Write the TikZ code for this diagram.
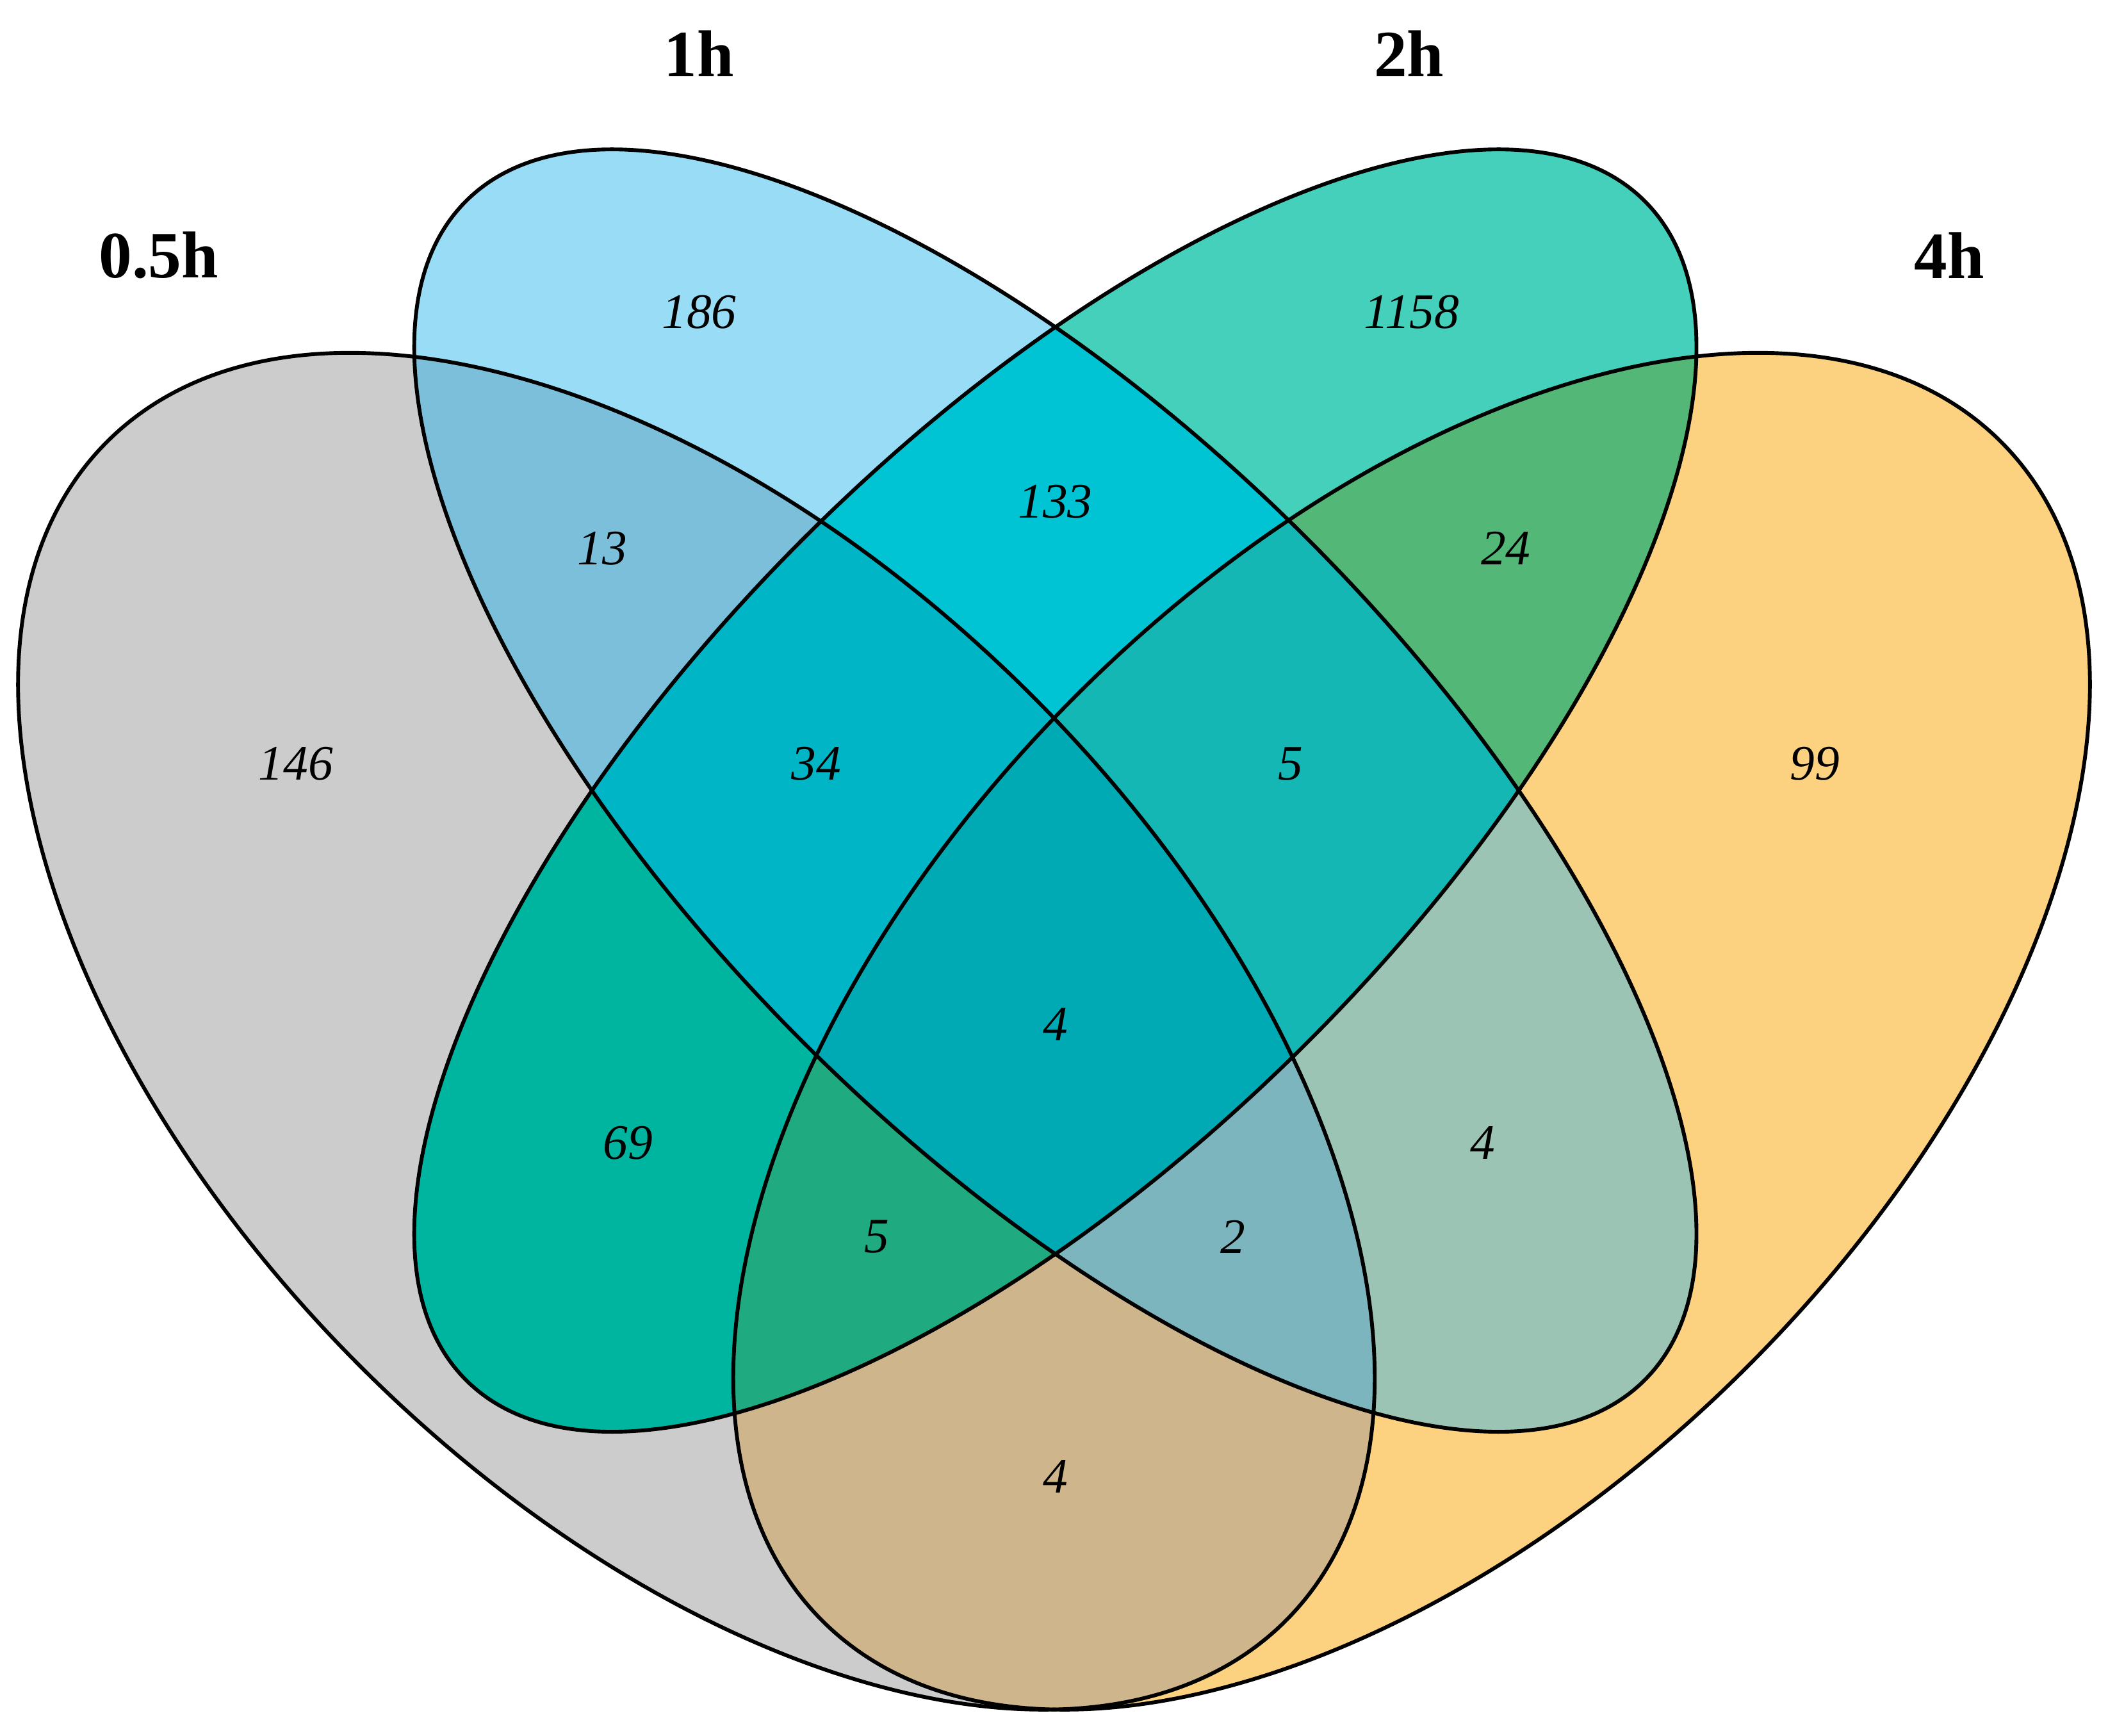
\documentclass[tikz,border=0pt]{standalone}
\usepackage{fontspec}
\setmainfont{Liberation Serif}
\begin{document}
\begin{tikzpicture}[x=0.1mm,y=0.1mm,
  edge/.style={draw=black, line width=0.8pt},
  num/.style={font=\fontsize{10.5}{12}\selectfont\itshape},
  ttl/.style={font=\fontsize{14}{16}\selectfont\bfseries}]
\def\SA{(518,524) ellipse [x radius=62mm, y radius=35.3mm, rotate=135]}
\def\SB{(785,703) ellipse [x radius=62mm, y radius=26.5mm, rotate=-45]}
\def\SC{(785,703) ellipse [x radius=62mm, y radius=26.5mm, rotate=45]}
\def\SD{(1050,524) ellipse [x radius=62mm, y radius=35.3mm, rotate=45]}
\definecolor{cA}{HTML}{CCCCCC}
\definecolor{cB}{HTML}{99DCF5}
\definecolor{cC}{HTML}{44D0BA}
\definecolor{cD}{HTML}{FCD17F}
\definecolor{cAB}{HTML}{7BBFDB}
\definecolor{cBC}{HTML}{00C3D3}
\definecolor{cCD}{HTML}{52B777}
\definecolor{cAC}{HTML}{00B5A0}
\definecolor{cBD}{HTML}{9BC4B5}
\definecolor{cAD}{HTML}{CFB58B}
\definecolor{cABC}{HTML}{00B5C6}
\definecolor{cBCD}{HTML}{14B7B3}
\definecolor{cACD}{HTML}{20AA80}
\definecolor{cABD}{HTML}{7DB5BE}
\definecolor{cABCD}{HTML}{00AAB5}
\useasboundingbox (0,0) rectangle (1568,1291);
\fill[white] (0,0) rectangle (1568,1291);
% singles
\fill[cA] \SA; \fill[cB] \SB; \fill[cC] \SC; \fill[cD] \SD;
% pairs
\begin{scope}\clip \SA; \fill[cAB] \SB; \fill[cAC] \SC; \fill[cAD] \SD; \end{scope}
\begin{scope}\clip \SB; \fill[cBC] \SC; \fill[cBD] \SD; \end{scope}
\begin{scope}\clip \SC; \fill[cCD] \SD; \end{scope}
% triples
\begin{scope}\clip \SA; \clip \SB; \fill[cABC] \SC; \fill[cABD] \SD; \end{scope}
\begin{scope}\clip \SA; \clip \SC; \fill[cACD] \SD; \end{scope}
\begin{scope}\clip \SB; \clip \SC; \fill[cBCD] \SD; \end{scope}
% all
\begin{scope}\clip \SA; \clip \SB; \clip \SC; \fill[cABCD] \SD; \end{scope}
\draw[edge] \SA; \draw[edge] \SB; \draw[edge] \SC; \draw[edge] \SD;
\node[num] (n186) at (520,1059) {186};
\node[num] (n1158) at (1050,1059) {1158};
\node[num] (n13) at (448,883) {13};
\node[num] (n133) at (785,918) {133};
\node[num] (n24) at (1120,883) {24};
\node[num] (n146) at (220,723) {146};
\node[num] (n34) at (607,723) {34};
\node[num] (n5a) at (960,723) {5};
\node[num] (n99) at (1350,723) {99};
\node[num] (n4c) at (785,529) {4};
\node[num] (n69) at (467,441) {69};
\node[num] (n4r) at (1103,441) {4};
\node[num] (n5b) at (652,371) {5};
\node[num] (n2) at (917,371) {2};
\node[num] (n4b) at (785,193) {4};
\node[ttl] (t05) at (118,1101) {0.5h};
\node[ttl] (t1) at (520,1251) {1h};
\node[ttl] (t2) at (1048,1251) {2h};
\node[ttl] (t4) at (1450,1101) {4h};
\end{tikzpicture}
\end{document}
